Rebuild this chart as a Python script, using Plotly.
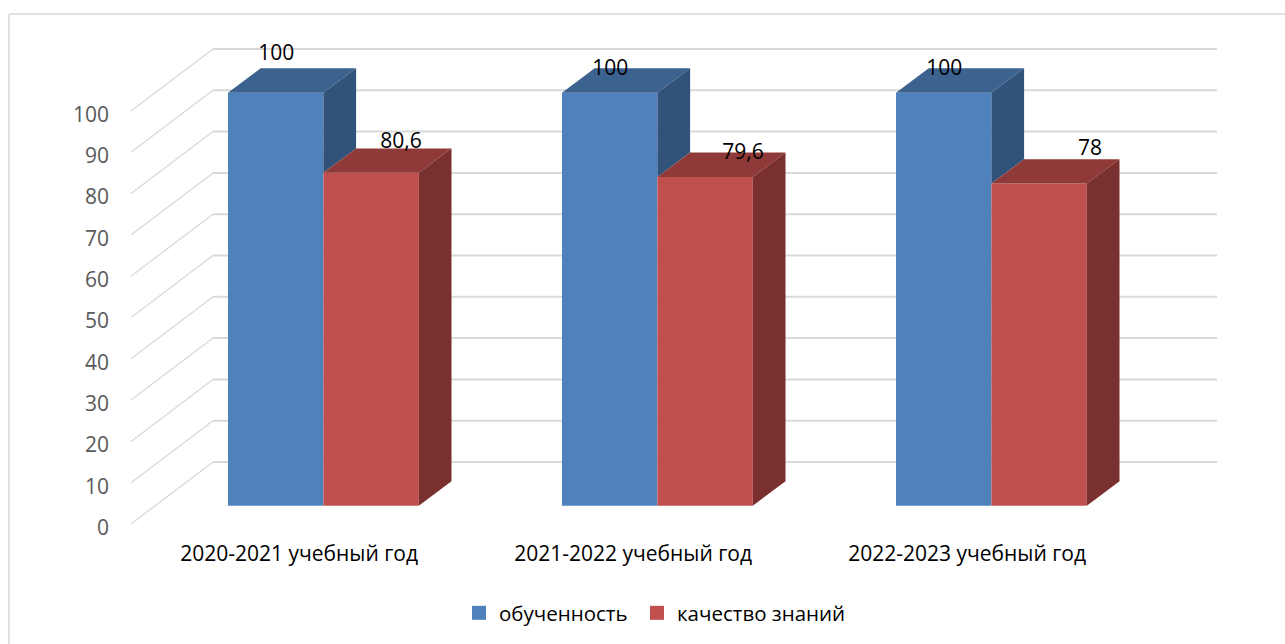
# fake 3d column chart: front faces are real bars, top/side faces are polygons
import plotly.graph_objects as go

categories = ['2020-2021 учебный год', '2021-2022 учебный год', '2022-2023 учебный год']
obuchennost = [100, 100, 100]
kachestvo = [80.6, 79.6, 78]
y_ticks = [0, 10, 20, 30, 40, 50, 60, 70, 80, 90, 100]

# picture geometry in pixels
W, H = 1285, 644
PX_PER_UNIT = 4.13
CAT_STEP = 334
CAT0_X = 323.4
BAR_W = 95.4
BAR_DX, BAR_DY = 32.7, 24.4
GRID_X0, GRID_X1, GRID_X2 = 131, 213, 1217
GRID_DY = 62
GRID_ZERO_Y = 524
TICK_ZERO_Y = 527.5
BAR_ZERO_Y = 505.7
CAT_LABEL_SHIFT = 24.3

# data label nudges in pixels, relative to the bar centre and bar value
blue_label_off = [(0.5, -38), (0.5, -23), (0.5, -23)]
red_label_off = [(30, -30.5), (38, -22.8), (51, -34)]

BLUE = '#4F81BD'
RED = '#C0504D'


def cx(px):
    return (px - CAT0_X) / CAT_STEP


def dv(px):
    return px / PX_PER_UNIT


x_range = [cx(0), cx(W)]
pos = list(range(len(categories)))
bw = BAR_W / CAT_STEP
ddx = BAR_DX / CAT_STEP
ddy = dv(BAR_DY)
grid_shift = dv(TICK_ZERO_Y - GRID_ZERO_Y)

fig = go.Figure()

# grid on the main y axis, so the bars on the overlay sit above it
ox, oy, bx, by = [], [], [], []
for t in y_ticks:
    ox += [cx(GRID_X0), cx(GRID_X1), None]
    oy += [t + grid_shift, t + grid_shift + dv(GRID_DY), None]
    bx += [cx(GRID_X1), cx(GRID_X2), None]
    by += [t + grid_shift + dv(GRID_DY), t + grid_shift + dv(GRID_DY), None]
fig.add_trace(go.Scatter(x=ox, y=oy, mode='lines', line=dict(color='#D9D9D9', width=1.3),
                         showlegend=False, hoverinfo='skip'))
fig.add_trace(go.Scatter(x=bx, y=by, mode='lines', line=dict(color='#D9D9D9', width=2),
                         showlegend=False, hoverinfo='skip'))

fig.add_trace(go.Bar(x=pos, y=obuchennost, name='обученность', marker=dict(color=BLUE, line_width=0),
                     yaxis='y2', showlegend=False))
fig.add_trace(go.Bar(x=pos, y=kachestvo, name='качество знаний', marker=dict(color=RED, line_width=0),
                     yaxis='y2', showlegend=False))

# legend keys, bar swatches can't be sized. one legend each to get the gap right
fig.add_trace(go.Scatter(x=[None], y=[None], mode='markers', name='обученность',
                         marker=dict(symbol='square', size=14, color=BLUE)))
fig.add_trace(go.Scatter(x=[None], y=[None], mode='markers', name='качество знаний', legend='legend2',
                         marker=dict(symbol='square', size=14, color=RED)))


def face(xs, ys, color):
    fig.add_trace(go.Scatter(x=xs, y=ys, mode='lines', fill='toself', fillcolor=color,
                             line=dict(width=0, color=color), yaxis='y2',
                             showlegend=False, hoverinfo='skip'))


for i in pos:
    b, r = obuchennost[i], kachestvo[i]
    # blue: only the part of the side above the red bar is visible
    face([i - bw, i, i + ddx, i - bw + ddx, i - bw], [b, b, b + ddy, b + ddy, b], '#3C6290')
    face([i, i + ddx, i + ddx, i, i], [b, b + ddy, r + ddy, r, b], '#325379')
    face([i, i + bw, i + bw + ddx, i + ddx, i], [r, r, r + ddy, r + ddy, r], '#8F3A38')
    face([i + bw, i + bw + ddx, i + bw + ddx, i + bw, i + bw], [r, r + ddy, ddy, 0, r], '#7A302E')

# data labels
lx, ly, lt = [], [], []
for i in pos:
    off = blue_label_off[i]
    lx.append(i - bw / 2 + off[0] / CAT_STEP)
    ly.append(obuchennost[i] - dv(off[1]))
    lt.append(str(obuchennost[i]))
    off = red_label_off[i]
    lx.append(i + bw / 2 + off[0] / CAT_STEP)
    ly.append(kachestvo[i] - dv(off[1]))
    lt.append(str(kachestvo[i]).replace('.', ','))
fig.add_trace(go.Scatter(x=lx, y=ly, text=lt, mode='text', yaxis='y2', showlegend=False,
                         textfont=dict(color='#000000', size=21), hoverinfo='skip'))

legend_style = dict(orientation='h', xanchor='left', yanchor='top', y=1 - 593 / H,
                    font=dict(color='#000000', size=20.5))

fig.update_layout(
    width=W,
    height=H,
    margin=dict(l=0, r=0, t=0, b=0),
    paper_bgcolor='white',
    plot_bgcolor='white',
    font=dict(family='Open Sans', size=21),
    barmode='group',
    bargap=1 - 2 * bw,
    bargroupgap=0,
    xaxis=dict(
        range=x_range,
        tickmode='array',
        tickvals=[p - CAT_LABEL_SHIFT / CAT_STEP for p in pos],
        ticktext=categories,
        tickfont=dict(color='#000000', size=21),
        showgrid=False,
        zeroline=False,
        showline=False,
        ticks='',
        anchor='free',
        position=1 - 539 / H,
    ),
    yaxis=dict(
        range=[(TICK_ZERO_Y - H) / PX_PER_UNIT, TICK_ZERO_Y / PX_PER_UNIT],
        tickmode='array',
        tickvals=y_ticks,
        tickfont=dict(color='#595959', size=21),
        showgrid=False,
        zeroline=False,
        showline=False,
        ticks='',
        anchor='free',
        position=109 / W,
    ),
    yaxis2=dict(
        range=[(BAR_ZERO_Y - H) / PX_PER_UNIT, BAR_ZERO_Y / PX_PER_UNIT],
        overlaying='y',
        visible=False,
    ),
    legend=dict(x=459 / W, **legend_style),
    legend2=dict(x=637 / W, **legend_style),
    shapes=[
        dict(type='line', xref='paper', yref='paper', x0=9 / W, x1=9 / W, y0=0, y1=1 - 14 / H,
             line=dict(color='#D9D9D9', width=1.5)),
        dict(type='line', xref='paper', yref='paper', x0=9 / W, x1=1, y0=1 - 14 / H, y1=1 - 14 / H,
             line=dict(color='#D9D9D9', width=1.5)),
    ],
)

fig.write_html("out.html", post_script="document.body.style.margin='0';",
               config=dict(displayModeBar=False))
